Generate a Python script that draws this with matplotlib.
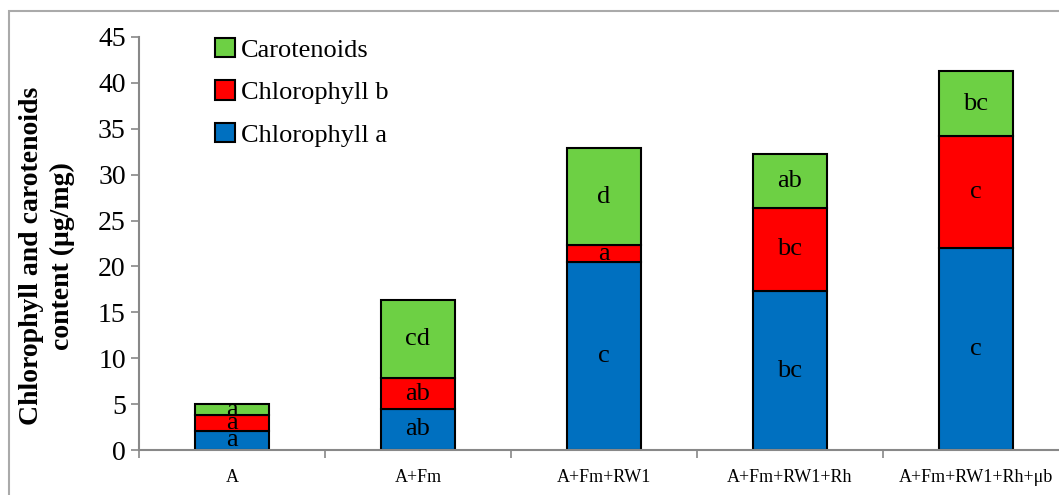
import matplotlib.pyplot as plt
import numpy as np
from matplotlib.patches import Rectangle

# data
categories = ['A', 'A+Fm', 'A+Fm+RW1', 'A+Fm+RW1+Rh', 'A+Fm+RW1+Rh+\u03bcb']
chl_a = [2.1, 4.5, 20.5, 17.3, 22.0]
chl_b = [1.7, 3.3, 1.8, 9.1, 12.2]
carot = [1.2, 8.5, 10.6, 5.8, 7.1]
let_a = ['a', 'ab', 'c', 'bc', 'c']
let_b = ['a', 'ab', 'a', 'bc', 'c']
let_c = ['a', 'cd', 'd', 'ab', 'bc']

plt.rcParams['font.family'] = ['Liberation Serif', 'DejaVu Serif']

fig = plt.figure(figsize=(10.59, 4.95), dpi=100)
ax = fig.add_axes([139/1059, 1-450/495, 930/1059, 413/495])

x = np.arange(len(categories))
w = 0.4
a = np.array(chl_a)
b = np.array(chl_b)
c = np.array(carot)
ax.bar(x, a, w, color='#0070C0', edgecolor='black', linewidth=1.5, label='Chlorophyll a')
ax.bar(x, b, w, bottom=a, color='#FF0000', edgecolor='black', linewidth=1.5, label='Chlorophyll b')
ax.bar(x, c, w, bottom=a+b, color='#6DD044', edgecolor='black', linewidth=1.5, label='Carotenoids')

for i in range(len(x)):
    ax.text(x[i], a[i]/2, let_a[i], ha='center', va='center', fontsize=19)
    ax.text(x[i], a[i]+b[i]/2, let_b[i], ha='center', va='center', fontsize=19)
    ax.text(x[i], a[i]+b[i]+c[i]/2, let_c[i], ha='center', va='center', fontsize=19)

ax.set_xlim(-0.5, len(categories)-0.5)
ax.set_ylim(0, 45)
ax.set_yticks(np.arange(0, 46, 5))
ax.set_xticks(x)
ax.set_xticklabels(categories, fontsize=13)
ax.set_xticks(np.arange(-0.5, len(categories), 1), minor=True)
ax.tick_params(axis='x', which='major', length=0, pad=14)
ax.tick_params(axis='x', which='minor', length=6, color='#888888', width=1.2)
ax.tick_params(axis='y', labelsize=20, length=6, color='#888888', width=1.2)
for s in ['top', 'right']:
    ax.spines[s].set_visible(False)
for s in ['left', 'bottom']:
    ax.spines[s].set_color('#888888')
    ax.spines[s].set_linewidth(1.5)

ax.set_ylabel('Chlorophyll and carotenoids\ncontent (\u03bcg/mg)', fontsize=20,
              fontweight='bold', linespacing=1.3)
ax.yaxis.set_label_coords(-0.069, 0.47)

h, l = ax.get_legend_handles_labels()
ax.legend(h[::-1], l[::-1], loc='upper left', bbox_to_anchor=(0.056, 1.055), frameon=False,
          fontsize=19, handlelength=0.75, handleheight=0.75, handletextpad=0.25, labelspacing=0.7)

fig.patches.append(Rectangle((9/1059, -0.1), 1.2, 1.1-11/495, transform=fig.transFigure,
                             fill=False, edgecolor='#aaaaaa', linewidth=1.5))

fig.savefig('out.png')
